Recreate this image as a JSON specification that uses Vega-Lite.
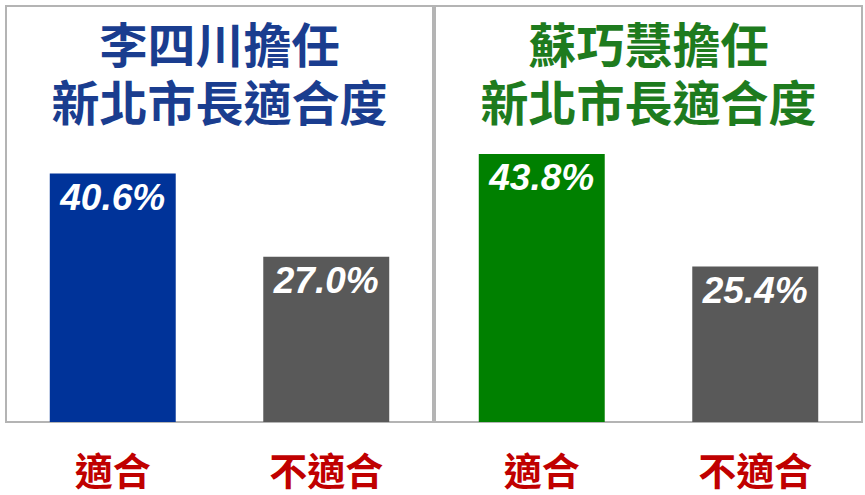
{
  "$schema": "https://vega.github.io/schema/vega-lite/v6.json",
  "background": "white",
  "padding": 5,
  "spacing": 0,
  "datasets": {
    "polls": [
      {"panel": "李四川", "cat": "適合", "value": 0.406},
      {"panel": "李四川", "cat": "不適合", "value": 0.270},
      {"panel": "蘇巧慧", "cat": "適合", "value": 0.438},
      {"panel": "蘇巧慧", "cat": "不適合", "value": 0.254}
    ]
  },
  "config": {
    "view": {"stroke": "#b4b4b4", "strokeWidth": 2},
    "axisX": {
      "title": null,
      "labelAngle": 0,
      "labelFontSize": 38,
      "labelFont": "Noto Sans CJK TC",
      "labelFontWeight": "bold",
      "labelColor": "#c00000",
      "labelPadding": 32,
      "domain": false,
      "ticks": false,
      "grid": false
    },
    "title": {
      "fontSize": 48,
      "font": "Noto Sans CJK TC",
      "fontWeight": "bold",
      "lineHeight": 58,
      "anchor": "middle",
      "frame": "group",
      "offset": -125
    }
  },
  "resolve": {"scale": {"color": "independent"}},
  "hconcat": [
    {
      "width": 427,
      "height": 416,
      "title": {"text": ["李四川擔任", "新北市長適合度"], "color": "#1a3d8f"},
      "data": {"name": "polls"},
      "transform": [{"filter": "datum.panel === '李四川'"}],
      "encoding": {
        "x": {"field": "cat", "type": "nominal", "sort": ["適合", "不適合"], "scale": {"paddingInner": 0.41, "paddingOuter": 0.205}},
        "y": {"field": "value", "type": "quantitative", "scale": {"domain": [0, 0.68], "nice": false}, "axis": null}
      },
      "layer": [
        {
          "mark": {"type": "bar"},
          "encoding": {
            "color": {"field": "cat", "type": "nominal", "scale": {"domain": ["適合", "不適合"], "range": ["#003399", "#595959"]}, "legend": null}
          }
        },
        {
          "mark": {"type": "text", "baseline": "top", "dy": 7, "fontSize": 37, "fontStyle": "italic", "fontWeight": "bold", "font": "Liberation Sans", "color": "white"},
          "encoding": {"text": {"field": "value", "type": "quantitative", "format": ".1%"}}
        }
      ]
    },
    {
      "width": 427,
      "height": 416,
      "title": {"text": ["蘇巧慧擔任", "新北市長適合度"], "color": "#1e7b1e"},
      "data": {"name": "polls"},
      "transform": [{"filter": "datum.panel === '蘇巧慧'"}],
      "encoding": {
        "x": {"field": "cat", "type": "nominal", "sort": ["適合", "不適合"], "scale": {"paddingInner": 0.41, "paddingOuter": 0.205}},
        "y": {"field": "value", "type": "quantitative", "scale": {"domain": [0, 0.68], "nice": false}, "axis": null}
      },
      "layer": [
        {
          "mark": {"type": "bar"},
          "encoding": {
            "color": {"field": "cat", "type": "nominal", "scale": {"domain": ["適合", "不適合"], "range": ["#008000", "#595959"]}, "legend": null}
          }
        },
        {
          "mark": {"type": "text", "baseline": "top", "dy": 7, "fontSize": 37, "fontStyle": "italic", "fontWeight": "bold", "font": "Liberation Sans", "color": "white"},
          "encoding": {"text": {"field": "value", "type": "quantitative", "format": ".1%"}}
        }
      ]
    }
  ]
}
